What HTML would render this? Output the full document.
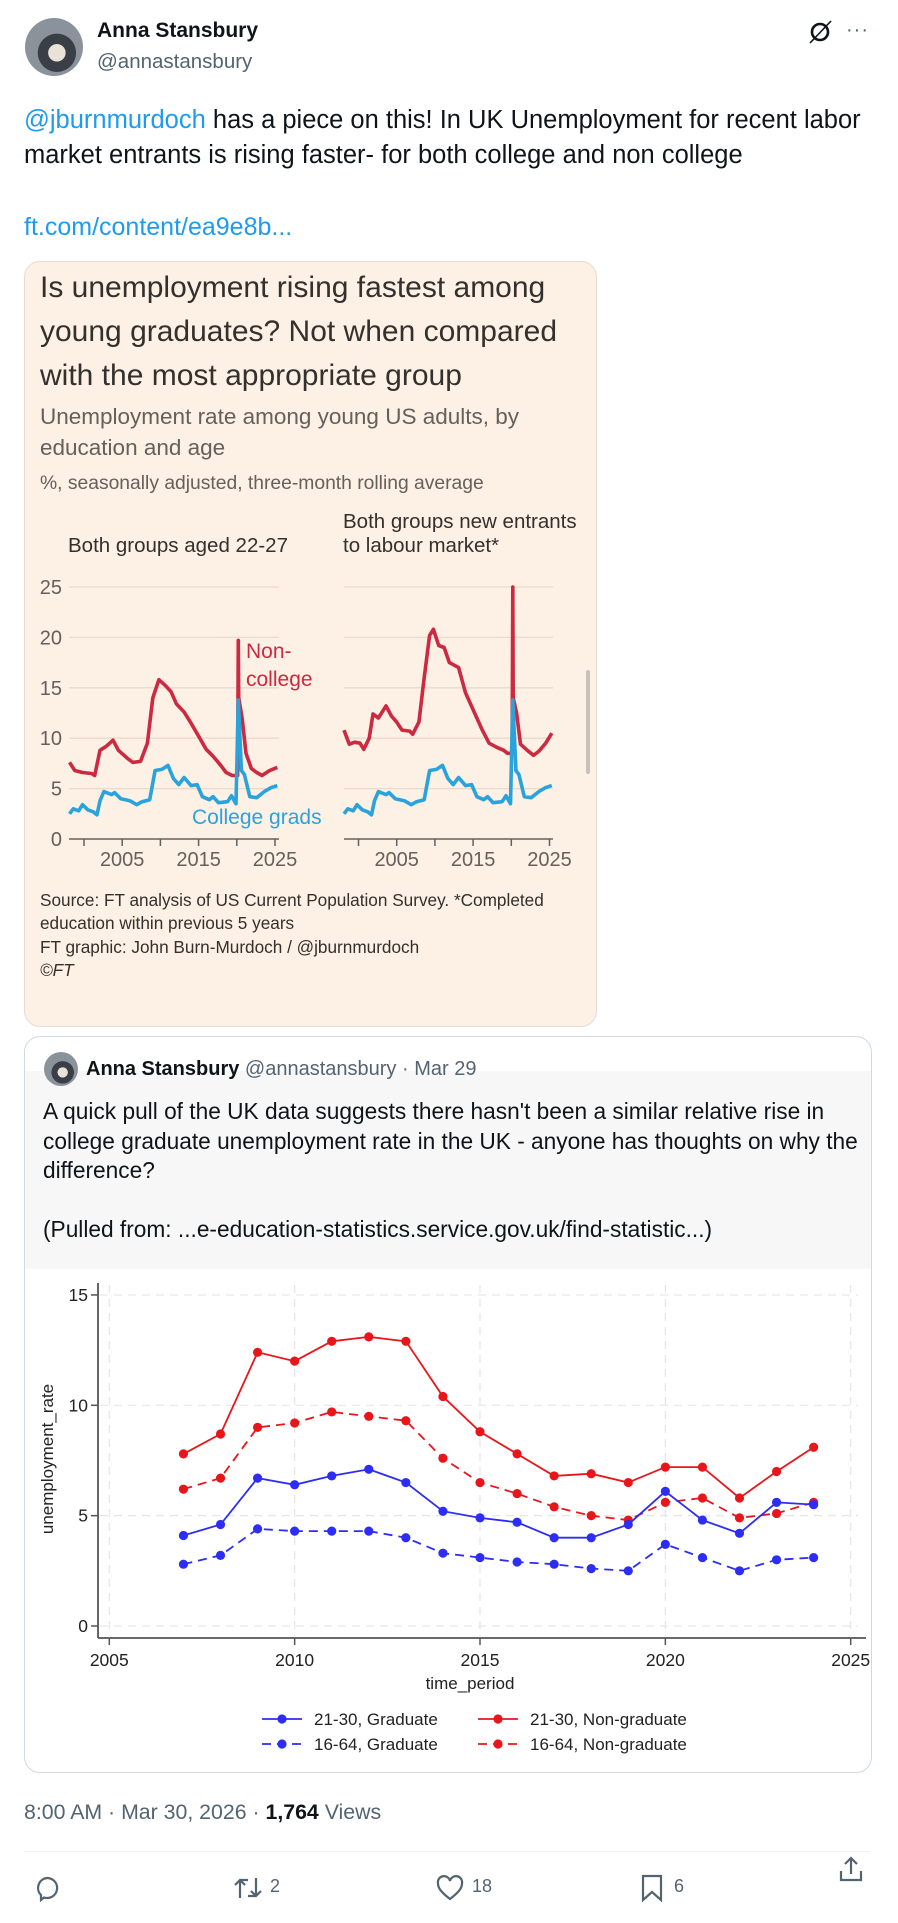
<!DOCTYPE html>
<html><head><meta charset="utf-8"><style>
html,body{margin:0;padding:0;background:#fff;}
body{width:898px;height:1923px;position:relative;overflow:hidden;font-family:"Liberation Sans",sans-serif;color:#0f1419;}
.a{position:absolute;white-space:nowrap;}
</style></head><body>
<div class="a" style="left:25px;top:18px;width:58px;height:58px;border-radius:50%;background:radial-gradient(circle at 55% 60%,#e9e2d6 0 18%,#3a3f47 19% 40%,#8a929b 41%);"></div>
<div class="a" style="left:97px;top:19px;font-size:21px;font-weight:bold;">Anna Stansbury</div>
<div class="a" style="left:97px;top:50px;font-size:20.5px;color:#536471;">@annastansbury</div>
<svg class="a" style="left:806px;top:18px" width="28" height="28" viewBox="0 0 28 28"><circle cx="14" cy="14" r="8" fill="none" stroke="#0f1419" stroke-width="2.6"/><line x1="4" y1="25" x2="25" y2="3" stroke="#0f1419" stroke-width="1.6"/></svg>
<div class="a" style="left:846px;top:19px;font-size:20px;color:#536471;letter-spacing:1px;">···</div>

<div class="a" style="left:24px;top:103px;font-size:25.5px;line-height:35px;"><span style="color:#1d9bf0">@jburnmurdoch</span> has a piece on this! In UK Unemployment for recent labor<br>market entrants is rising faster- for both college and non college</div>
<div class="a" style="left:24px;top:213px;font-size:25px;color:#1d9bf0;">ft.com/content/ea9e8b...</div>

<div class="a" style="left:24px;top:261px;width:571px;height:764px;background:#fdf0e4;border:1px solid #e4dcd3;border-radius:16px;"></div>
<div class="a" style="left:40px;top:266px;font-size:30px;line-height:44px;color:#33302e;">Is unemployment rising fastest among<br>young graduates? Not when compared<br>with the most appropriate group</div>
<div class="a" style="left:40px;top:401px;font-size:22.5px;line-height:31px;color:#66605c;">Unemployment rate among young US adults, by<br>education and age</div>
<div class="a" style="left:40px;top:473px;font-size:19.3px;color:#66605c;">%, seasonally adjusted, three-month rolling average</div>
<div class="a" style="left:68px;top:534px;font-size:20.5px;color:#33302e;">Both groups aged 22-27</div>
<div class="a" style="left:343px;top:510px;font-size:20.5px;line-height:24px;color:#33302e;">Both groups new entrants<br>to labour market*</div>
<div class="a" style="left:40px;top:889px;font-size:17.2px;line-height:23.4px;color:#33302e;">Source: FT analysis of US Current Population Survey. *Completed<br>education within previous 5 years<br>FT graphic: John Burn-Murdoch / @jburnmurdoch<br><i>©FT</i></div>
<div class="a" style="left:586px;top:670px;width:4px;height:104px;background:#c8c2bc;border-radius:2px;"></div>

<svg class="a" id="ft" style="left:0;top:0" width="898" height="1923"></svg>

<div class="a" style="left:24px;top:1036px;width:846px;height:735px;border:1px solid #cfd9de;border-radius:16px;overflow:hidden;background:#fff;"><div style="position:absolute;left:0;top:34px;width:100%;height:198px;background:#f7f7f7;"></div></div>
<div class="a" style="left:44px;top:1052px;width:34px;height:34px;border-radius:50%;background:radial-gradient(circle at 55% 60%,#e9e2d6 0 18%,#3a3f47 19% 40%,#8a929b 41%);"></div>
<div class="a" style="left:86px;top:1058px;font-size:20px;"><b>Anna Stansbury</b> <span style="color:#536471">@annastansbury · Mar 29</span></div>
<div class="a" style="left:43px;top:1097px;font-size:22.7px;line-height:29.5px;">A quick pull of the UK data suggests there hasn't been a similar relative rise in<br>college graduate unemployment rate in the UK - anyone has thoughts on why the<br>difference?<br><br>(Pulled from: ...e-education-statistics.service.gov.uk/find-statistic...)</div>

<svg class="a" id="st" style="left:0;top:0" width="898" height="1923"></svg>

<div class="a" style="left:24px;top:1800px;font-size:21.3px;color:#536471;">8:00 AM · Mar 30, 2026 · <b style="color:#0f1419">1,764</b> Views</div>
<div class="a" style="left:24px;top:1851px;width:846px;height:1px;background:#eff3f4;"></div>
<svg class="a" style="left:33px;top:1874px" width="28" height="28" viewBox="0 0 28 28"><path d="M14 4a10 10 0 1 1-3 19.5L8 26v-5A10 10 0 0 1 14 4z" fill="none" stroke="#536471" stroke-width="2.2"/></svg>
<svg class="a" style="left:232px;top:1874px" width="32" height="28" viewBox="0 0 32 28"><path d="M8 24V6M3 11l5-5 5 5M24 4v18M19 17l5 5 5-5M8 6h8M24 22h-8" fill="none" stroke="#536471" stroke-width="2.2"/></svg>
<div class="a" style="left:270px;top:1876px;font-size:18px;color:#536471;">2</div>
<svg class="a" style="left:436px;top:1875px" width="28" height="26" viewBox="0 0 28 26"><path d="M14 24C5 17 2 13 2 8.5A5.5 5.5 0 0 1 14 6a5.5 5.5 0 0 1 12 2.5C26 13 23 17 14 24z" fill="none" stroke="#536471" stroke-width="2.2"/></svg>
<div class="a" style="left:472px;top:1876px;font-size:18px;color:#536471;">18</div>
<svg class="a" style="left:640px;top:1873px" width="24" height="30" viewBox="0 0 24 30"><path d="M3 3h18v24l-9-8-9 8z" fill="none" stroke="#536471" stroke-width="2.2"/></svg>
<div class="a" style="left:674px;top:1876px;font-size:18px;color:#536471;">6</div>
<svg class="a" style="left:838px;top:1855px" width="26" height="28" viewBox="0 0 26 28"><path d="M13 3v16M7 9l6-6 6 6M3 16v9h20v-9" fill="none" stroke="#536471" stroke-width="2.2"/></svg>

<script>
// ---------- FT chart data ----------
const ftLeftRedYears=[1998.1,1998.8,1999.8,2001,2001.4,2002.1,2002.9,2003.8,2004.5,2005.7,2006.4,2007.4,2008.3,2009,2009.8,2010.7,2011.4,2012.1,2013.1,2014,2015,2016,2016.9,2017.9,2018.6,2019.4,2020.1,2020.2,2020.25,2020.7,2021.2,2021.9,2022.6,2023.3,2024.3,2025.3];
const ftLeftRedValues=[7.6,6.8,6.6,6.5,6.3,8.8,9.2,9.8,8.8,8.0,7.6,7.7,9.5,14,15.8,15.2,14.6,13.4,12.6,11.5,10.2,8.9,8.2,7.3,6.6,6.3,6.3,19.7,14,12,8.5,7.0,6.6,6.3,6.8,7.1];
const ftBlueYears=[1998.1,1998.6,1999.3,1999.8,2000.5,2001.2,2001.7,2002.1,2002.6,2003.6,2004,2004.8,2006,2006.9,2007.6,2008.6,2009.3,2010.2,2011,2011.7,2012.4,2013.1,2014,2014.8,2015.5,2016.4,2016.9,2017.6,2018.8,2019.3,2019.9,2020.2,2020.6,2021,2021.7,2022.6,2023.6,2024.5,2025.3];
const ftLeftBlueValues=[2.5,3.0,2.8,3.4,2.9,2.7,2.4,3.8,4.7,4.4,4.6,4.0,3.8,3.4,3.7,3.9,6.8,6.9,7.3,6.0,5.4,6.1,5.3,5.4,4.2,3.9,4.2,3.6,3.7,4.3,3.5,13.8,6.8,6.4,4.2,4.1,4.7,5.1,5.3];
const ftRightRedYears=[1998.1,1998.8,1999.5,2000.2,2000.7,2001.4,2001.9,2002.6,2003.6,2004.3,2005,2005.7,2006.7,2007.1,2007.9,2008.6,2009.3,2009.8,2010.5,2011.2,2011.9,2013.1,2014,2015.2,2016.2,2017.1,2018.1,2019,2019.5,2020.1,2020.2,2020.25,2020.7,2021.2,2022.1,2022.9,2023.6,2024.5,2025.3];
const ftRightRedValues=[10.8,9.4,9.6,9.5,8.9,10,12.4,12.0,13.2,12.2,11.6,10.8,10.7,10.4,11.6,16,20.2,20.8,19.2,19,17.5,17.0,14.5,12.5,10.8,9.5,9.1,8.8,8.5,8.5,25,14,12.5,9.4,8.8,8.3,8.7,9.5,10.5];
const ftRightBlueValues=[2.5,3.0,2.8,3.4,2.9,2.7,2.4,3.8,4.7,4.4,4.6,4.0,3.8,3.4,3.7,3.9,6.8,6.9,7.3,6.0,5.4,6.1,5.3,5.4,4.2,3.9,4.2,3.6,3.7,4.3,3.5,13.8,6.8,6.4,4.2,4.1,4.7,5.1,5.3];
const ftYTicks=[0,5,10,15,20,25];
const ftXTicks=[2000,2005,2010,2015,2020,2025];
const ftXLabels=["","2005","","2015","","2025"];

// ---------- UK chart data ----------
const ukYears=[2007,2008,2009,2010,2011,2012,2013,2014,2015,2016,2017,2018,2019,2020,2021,2022,2023,2024];
const ukNonGrad2130=[7.8,8.7,12.4,12.0,12.9,13.1,12.9,10.4,8.8,7.8,6.8,6.9,6.5,7.2,7.2,5.8,7.0,8.1];
const ukNonGrad1664=[6.2,6.7,9.0,9.2,9.7,9.5,9.3,7.6,6.5,6.0,5.4,5.0,4.8,5.6,5.8,4.9,5.1,5.6];
const ukGrad2130=[4.1,4.6,6.7,6.4,6.8,7.1,6.5,5.2,4.9,4.7,4.0,4.0,4.6,6.1,4.8,4.2,5.6,5.5];
const ukGrad1664=[2.8,3.2,4.4,4.3,4.3,4.3,4.0,3.3,3.1,2.9,2.8,2.6,2.5,3.7,3.1,2.5,3.0,3.1];
const ukYTicks=[0,5,10,15];
const ukXTicks=[2005,2010,2015,2020,2025];

const NS='http://www.w3.org/2000/svg';
function mk(parent,tag,attrs,text){const e=document.createElementNS(NS,tag);for(const k in attrs)e.setAttribute(k,attrs[k]);if(text!==undefined)e.textContent=text;parent.appendChild(e);return e;}

// FT chart
const ft=document.getElementById('ft');
const ftY=v=>839-v*10.08;
const ftXL=yr=>84+(yr-2000)*7.64;
const ftXR=yr=>358.5+(yr-2000)*7.64;
ftYTicks.forEach(t=>{
  if(t>0){
    const g1=mk(ft,'line',{x1:69,x2:279,y1:ftY(t),y2:ftY(t),stroke:'#e8dbcd','stroke-width':1.3});
    
    
    const g2=mk(ft,'line',{x1:344,x2:553,y1:ftY(t),y2:ftY(t),stroke:'#e8dbcd','stroke-width':1.3});
    
    
  }
  const l=mk(ft,'text',{x:62,y:ftY(t)+7,'text-anchor':'end','font-size':20,fill:'#66605c','font-family':'Liberation Sans'},String(t));
  
  
});
[[ftXL,69,279],[ftXR,344,553]].forEach(([sx,a,b])=>{
  const ax=mk(ft,'line',{x1:a,x2:b,y1:839,y2:839,stroke:'#66605c','stroke-width':1.5});
  
  
  ftXTicks.forEach((t,i)=>{
    const tk=mk(ft,'line',{x1:sx(t),x2:sx(t),y1:839,y2:846,stroke:'#66605c','stroke-width':1.5});
    
    
    if(ftXLabels[i]){
      const tl=mk(ft,'text',{x:sx(t),y:866,'text-anchor':'middle','font-size':20,fill:'#66605c','font-family':'Liberation Sans'},ftXLabels[i]);
      
      
    }
  });
});
function ftPath(xs,vs,sx,col,name){
  const d=xs.map((x,i)=>(i?'L':'M')+sx(x).toFixed(1)+','+ftY(vs[i]).toFixed(1)).join('');
  const p=mk(ft,'path',{d:d,fill:'none',stroke:col,'stroke-width':3.6,'stroke-linejoin':'round'});
  
  
}
ftPath(ftLeftRedYears,ftLeftRedValues,ftXL,'#cc2a40','ft-left-noncollege-line');
ftPath(ftBlueYears,ftLeftBlueValues,ftXL,'#2aa3dc','ft-left-college-line');
ftPath(ftRightRedYears,ftRightRedValues,ftXR,'#cc2a40','ft-right-noncollege-line');
ftPath(ftBlueYears,ftRightBlueValues,ftXR,'#2aa3dc','ft-right-college-line');
let t1=mk(ft,'text',{x:246,y:658,'font-size':21,fill:'#cc2a40','font-family':'Liberation Sans'},'Non-');


let t2=mk(ft,'text',{x:246,y:686,'font-size':21,fill:'#cc2a40','font-family':'Liberation Sans'},'college');


let t3=mk(ft,'text',{x:192,y:824,'font-size':21,fill:'#2aa3dc','font-family':'Liberation Sans'},'College grads');



// UK chart
const st=document.getElementById('st');
const ux=yr=>109.3+(yr-2005)*37.07;
const uy=v=>1626-v*22.07;
ukXTicks.forEach(t=>{
  const g=mk(st,'line',{x1:ux(t),x2:ux(t),y1:1285,y2:1636,stroke:'#e6e6e6','stroke-width':1.2,'stroke-dasharray':'8,6'});
  
  
  const tk=mk(st,'line',{x1:ux(t),x2:ux(t),y1:1638,y2:1645,stroke:'#555','stroke-width':1.5});
  
  
  const l=mk(st,'text',{x:ux(t),y:1666,'text-anchor':'middle','font-size':17.5,fill:'#222','font-family':'Liberation Sans'},String(t));
  
  
});
ukYTicks.forEach(t=>{
  const g=mk(st,'line',{x1:100,x2:858,y1:uy(t),y2:uy(t),stroke:'#e6e6e6','stroke-width':1.2,'stroke-dasharray':'8,6'});
  
  
  const tk=mk(st,'line',{x1:91,x2:98,y1:uy(t),y2:uy(t),stroke:'#555','stroke-width':1.5});
  
  
  const l=mk(st,'text',{x:88,y:uy(t)+6,'text-anchor':'end','font-size':17.5,fill:'#222','font-family':'Liberation Sans'},String(t));
  
  
});
let ya=mk(st,'line',{x1:98,x2:98,y1:1283,y2:1638,stroke:'#555','stroke-width':1.8});


let xa=mk(st,'line',{x1:98,x2:866,y1:1638,y2:1638,stroke:'#555','stroke-width':1.8});


let xt=mk(st,'text',{x:470,y:1689,'text-anchor':'middle','font-size':17,fill:'#222','font-family':'Liberation Sans'},'time_period');


let ytt=mk(st,'text',{x:0,y:0,'text-anchor':'middle','font-size':17,fill:'#222','font-family':'Liberation Sans',transform:'translate(53,1459) rotate(-90)'},'unemployment_rate');


function ukSeries(vals,col,dash,name){
  const d=ukYears.map((y,i)=>(i?'L':'M')+ux(y).toFixed(1)+','+uy(vals[i]).toFixed(1)).join('');
  const p=mk(st,'path',{d:d,fill:'none',stroke:col,'stroke-width':1.8,'stroke-dasharray':dash});
  
  
  ukYears.forEach((y,i)=>{
    const c=mk(st,'circle',{cx:ux(y),cy:uy(vals[i]),r:4.6,fill:col});
    
    
  });
}
ukSeries(ukGrad1664,'#2d2df5','9,6','uk-16-64-graduate');
ukSeries(ukNonGrad1664,'#e8161b','9,6','uk-16-64-nongraduate');
ukSeries(ukGrad2130,'#2d2df5','none','uk-21-30-graduate');
ukSeries(ukNonGrad2130,'#e8161b','none','uk-21-30-nongraduate');
// legend
[[262,1719,'#2d2df5','none','21-30, Graduate'],[478,1719,'#e8161b','none','21-30, Non-graduate'],[262,1744,'#2d2df5','9,6','16-64, Graduate'],[478,1744,'#e8161b','9,6','16-64, Non-graduate']].forEach(r=>{
  const ln=mk(st,'line',{x1:r[0],x2:r[0]+40,y1:r[1],y2:r[1],stroke:r[2],'stroke-width':1.8,'stroke-dasharray':r[3]});
  
  
  const c=mk(st,'circle',{cx:r[0]+20,cy:r[1],r:4.6,fill:r[2]});
  
  
  const tx=mk(st,'text',{x:r[0]+52,y:r[1]+6,'font-size':17,fill:'#222','font-family':'Liberation Sans'},r[4]);
  
  
});
</script>
</body></html>
